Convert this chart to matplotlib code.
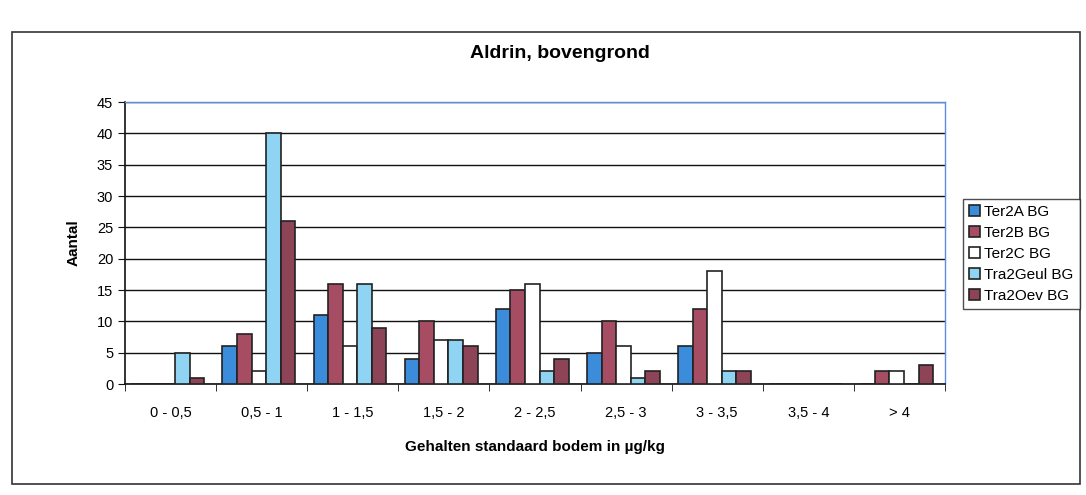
import matplotlib
matplotlib.use("Agg")
import matplotlib.pyplot as plt
from matplotlib.patches import Rectangle
import numpy as np

plt.rcParams['font.family'] = ['Liberation Sans', 'DejaVu Sans']

categories = ["0 - 0,5", "0,5 - 1", "1 - 1,5", "1,5 - 2", "2 - 2,5",
              "2,5 - 3", "3 - 3,5", "3,5 - 4", "> 4"]
series_names = ["Ter2A BG", "Ter2B BG", "Ter2C BG", "Tra2Geul BG", "Tra2Oev BG"]
ter2a = [0, 6, 11, 4, 12, 5, 6, 0, 0]
ter2b = [0, 8, 16, 10, 15, 10, 12, 0, 2]
ter2c = [0, 2, 6, 7, 16, 6, 18, 0, 2]
tra2geul = [5, 40, 16, 7, 2, 1, 2, 0, 0]
tra2oev = [1, 26, 9, 6, 4, 2, 2, 0, 3]
colors = ["#3b8ddb", "#a64d64", "#ffffff", "#8fd4f2", "#8c4456"]

fig = plt.figure(figsize=(10.86, 4.95), dpi=100)
ax = fig.add_axes([125 / 1086, 1 - 384 / 495, 820 / 1086, 282 / 495])

# outer chart border
fig.patches.append(Rectangle((12 / 1086, 1 - 484 / 495), 1068 / 1086, 452 / 495,
                             transform=fig.transFigure, fill=False,
                             edgecolor="#333333", linewidth=1.2))

x = np.arange(len(categories))
w = 0.16
all_series = [ter2a, ter2b, ter2c, tra2geul, tra2oev]
for i, (vals, name, c) in enumerate(zip(all_series, series_names, colors)):
    ax.bar(x + (i - 2) * w - 0.03, vals, width=w, color=c, edgecolor="#222222",
           linewidth=1.2, label=name, zorder=3)

ax.set_xlim(-0.5, len(categories) - 0.5)
ax.set_ylim(0, 45)
ax.set_yticks(np.arange(0, 46, 5))
ax.yaxis.grid(True, color="#111111", linewidth=1.0, zorder=0)
ax.set_axisbelow(True)

ax.set_xticks(x)
ax.set_xticklabels(categories, fontsize=10.5)
ax.set_xticks(np.arange(-0.5, len(categories), 1), minor=True)
ax.tick_params(axis="x", which="major", length=0, pad=16)
ax.tick_params(axis="x", which="minor", length=5, direction="out", color="#111111")
ax.tick_params(axis="y", length=5, direction="out", labelsize=10.5, color="#111111")

for s in ["left", "bottom"]:
    ax.spines[s].set_color("#111111")
    ax.spines[s].set_linewidth(1.2)
for s in ["top", "right"]:
    ax.spines[s].set_color("#5a8ee0")
    ax.spines[s].set_linewidth(1.0)

ax.set_xlabel("Gehalten standaard bodem in µg/kg", fontsize=11, fontweight="bold",
              labelpad=14)
ax.set_ylabel("Aantal", fontsize=11, fontweight="bold", labelpad=12)
fig.text(560 / 1086, 1 - 53 / 495, "Aldrin, bovengrond", ha="center", va="center",
         fontsize=14, fontweight="bold")

leg = fig.legend(loc="upper left", bbox_to_anchor=(963 / 1086, 1 - 199 / 495),
                 fontsize=11, frameon=True, fancybox=False, handlelength=0.7,
                 handleheight=0.7, handletextpad=0.3, borderpad=0.4,
                 labelspacing=0.45, borderaxespad=0)
leg.get_frame().set_edgecolor("#222222")
leg.get_frame().set_linewidth(1.0)

fig.savefig("out.png", dpi=100)
